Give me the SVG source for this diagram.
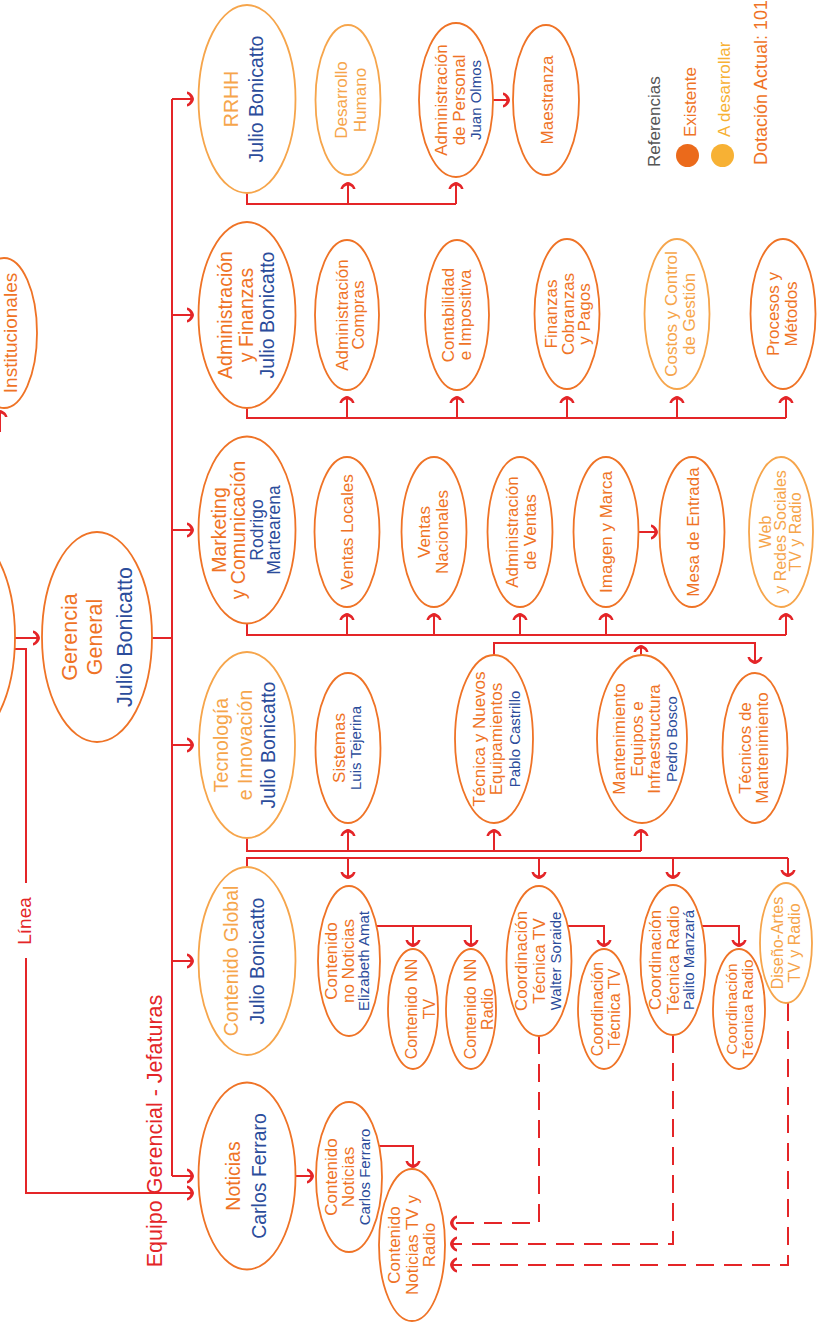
<svg xmlns="http://www.w3.org/2000/svg" width="818" height="1322" viewBox="0 0 818 1322">
<style>
  text { font-family: "Liberation Sans", Arial, sans-serif; text-anchor: middle; }
  .e  { fill: #fff; stroke: #EF7326; stroke-width: 1.8; }
  .el { fill: #fff; stroke: #F6A54B; stroke-width: 1.8; }
  .t  { fill: #EF7326; }
  .tl { fill: #F6A54B; }
  .n  { fill: #2B4C9B; }
  .g  { fill: #555; }
  .r  { fill: #E42528; }
  .h  { font-size: 19.5px; }
  .hs { font-size: 17.5px; }
  .s  { font-size: 17px; }
  .m  { font-size: 16px; }
  .sn { font-size: 15px; }
  .ln { fill: none; stroke: #E42528; stroke-width: 2; }
  .a  { marker-end: url(#ah); }
  .d  { stroke-dasharray: 18 10; }
</style>
<defs>
  <marker id="ah" viewBox="-8 -9 10 18" refX="0" refY="0" markerWidth="10" markerHeight="18" orient="auto" markerUnits="userSpaceOnUse">
    <path d="M1,0 C0.5,-4 -3,-7 -6,-7.5 L-6,-5 C-4,-4.5 -2.5,-2 -2.5,0 C-2.5,2 -4,4.5 -6,5 L-6,7.5 C-3,7 0.5,4 1,0 Z" fill="#E42528"/>
  </marker>
</defs>
<rect width="818" height="1322" fill="#fff"/>

<!-- connectors -->
<g id="connectors" class="ln">
  <!-- board to general management -->
  <path class="a" d="M15,638 H39"/>
  <path d="M15,649 H26 V883"/>
  <path class="a" d="M26,958 V1193 H193"/>
  <path class="a" d="M0,432 V411"/>
  <!-- general management bus -->
  <path d="M152,638 H172"/>
  <path d="M172,99 V1176"/>
  <path class="a" d="M172,99 H193"/>
  <path class="a" d="M172,315 H193"/>
  <path class="a" d="M172,530 H193"/>
  <path class="a" d="M172,745 H193"/>
  <path class="a" d="M172,961 H193"/>
  <path class="a" d="M172,1176 H193"/>
  <!-- RRHH -->
  <path d="M247,193 V204 H456"/>
  <path class="a" d="M348,204 V183"/>
  <path class="a" d="M456,204 V183"/>
  <path class="a" d="M493,100 H509"/>
  <!-- Administración y Finanzas -->
  <path d="M247,407 V418 H786"/>
  <path class="a" d="M347,418 V397"/>
  <path class="a" d="M457,418 V397"/>
  <path class="a" d="M567,418 V397"/>
  <path class="a" d="M677,418 V397"/>
  <path class="a" d="M786,418 V397"/>
  <!-- Marketing -->
  <path d="M247,623 V635 H786"/>
  <path class="a" d="M347,635 V614"/>
  <path class="a" d="M434,635 V614"/>
  <path class="a" d="M520,635 V614"/>
  <path class="a" d="M606,635 V614"/>
  <path class="a" d="M786,635 V614"/>
  <path class="a" d="M638,532 H657"/>
  <!-- Tecnología -->
  <path class="a" d="M494,655 V643 H755 V663"/>
  <path class="a" d="M641,656 V646"/>
  <path d="M247,838 V851 H641"/>
  <path class="a" d="M348,851 V830"/>
  <path class="a" d="M494,851 V830"/>
  <path class="a" d="M641,851 V830"/>
  <!-- Contenido Global -->
  <path d="M247,867 V858 H788"/>
  <path class="a" d="M348,858 V878"/>
  <path class="a" d="M539,858 V878"/>
  <path class="a" d="M673,858 V878"/>
  <path class="a" d="M788,858 V876"/>
  <path class="a" d="M376,926 H471 V946"/>
  <path class="a" d="M413,926 V946"/>
  <path class="a" d="M568,926 H604 V946"/>
  <path class="a" d="M702,926 H739 V946"/>
  <!-- Noticias -->
  <path class="a" d="M295,1176 H313"/>
  <path class="a" d="M379,1146 H413 V1167"/>
  <!-- dashed support links -->
  <path class="a d" d="M539,1036 V1223 H451"/>
  <path class="a d" d="M673,1035 V1244 H451"/>
  <path class="a d" d="M788,1003 V1265 H451"/>
</g>

<!-- side labels -->
<g id="labels">
  <text class="r" style="font-size:19px" transform="translate(31,921) rotate(-90)">Línea</text>
  <text class="r" style="font-size:21.5px" transform="translate(162,1131) rotate(-90)">Equipo Gerencial - Jefaturas</text>
</g>

<!-- nodes -->
<g id="directorio"><ellipse class="e" cx="-40" cy="637" rx="55" ry="108"/></g>

<g id="institucionales" transform="translate(4,333)">
  <ellipse class="e" cx="0" cy="0" rx="33" ry="75"/>
  <g transform="rotate(-90)"><text class="t" style="font-size:19px" y="13">Institucionales</text></g>
</g>

<g id="gerencia" transform="translate(97,637)">
  <ellipse class="e" rx="55" ry="105"/>
  <g transform="rotate(-90)" style="font-size:21.5px">
    <text class="t" y="-20">Gerencia</text>
    <text class="t" y="5">General</text>
    <text class="n" y="35">Julio Bonicatto</text>
  </g>
</g>

<!-- heads -->
<g id="rrhh" transform="translate(247,99)">
  <ellipse class="el" rx="48.5" ry="94"/>
  <g transform="rotate(-90)" class="h">
    <text class="tl" y="-9">RRHH</text>
    <text class="n" y="16">Julio Bonicatto</text>
  </g>
</g>
<g id="admin-finanzas" transform="translate(247,315)">
  <ellipse class="e" rx="48.5" ry="93"/>
  <g transform="rotate(-90)" class="h">
    <text class="t" y="-15">Administración</text>
    <text class="t" y="6">y Finanzas</text>
    <text class="n" y="27">Julio Bonicatto</text>
  </g>
</g>
<g id="marketing" transform="translate(247,530)">
  <ellipse class="e" rx="48.5" ry="93.5"/>
  <g transform="rotate(-90)">
    <text class="t h" y="-21">Marketing</text>
    <text class="t h" y="-2">y Comunicación</text>
    <text class="n hs" y="16">Rodrigo</text>
    <text class="n hs" y="33">Martearena</text>
  </g>
</g>
<g id="tecnologia" transform="translate(247,745)">
  <ellipse class="el" rx="48" ry="93"/>
  <g transform="rotate(-90)" class="h">
    <text class="tl" y="-19">Tecnología</text>
    <text class="tl" y="5">e Innovación</text>
    <text class="n" y="28">Julio Bonicatto</text>
  </g>
</g>
<g id="contenido-global" transform="translate(247,961)">
  <ellipse class="el" rx="48.5" ry="94"/>
  <g transform="rotate(-90)" class="h">
    <text class="tl" y="-9">Contenido Global</text>
    <text class="n" y="17">Julio Bonicatto</text>
  </g>
</g>
<g id="noticias" transform="translate(247,1176)">
  <ellipse class="e" rx="48.5" ry="93.5"/>
  <g transform="rotate(-90)" class="h">
    <text class="t" y="-7">Noticias</text>
    <text class="n" y="19">Carlos Ferraro</text>
  </g>
</g>

<!-- RRHH areas -->
<g id="desarrollo-humano" transform="translate(348,100)">
  <ellipse class="el" rx="32.5" ry="75"/>
  <g transform="rotate(-90)" class="s">
    <text class="tl" y="-1">Desarrollo</text>
    <text class="tl" y="18">Humano</text>
  </g>
</g>
<g id="admin-personal" transform="translate(456,100)">
  <ellipse class="e" rx="37" ry="77"/>
  <g transform="rotate(-90)">
    <text class="t s" y="-9">Administración</text>
    <text class="t s" y="9">de Personal</text>
    <text class="n sn" y="25">Juan Olmos</text>
  </g>
</g>
<g id="maestranza" transform="translate(546,100)">
  <ellipse class="e" rx="33" ry="75"/>
  <g transform="rotate(-90)" class="s"><text class="t" y="7">Maestranza</text></g>
</g>

<!-- Administración y Finanzas areas -->
<g id="admin-compras" transform="translate(347,315)">
  <ellipse class="e" rx="32" ry="75"/>
  <g transform="rotate(-90)" class="s">
    <text class="t" y="1">Administración</text>
    <text class="t" y="17">Compras</text>
  </g>
</g>
<g id="contabilidad" transform="translate(457,315)">
  <ellipse class="e" rx="32" ry="75"/>
  <g transform="rotate(-90)" class="s">
    <text class="t" y="-3">Contabilidad</text>
    <text class="t" y="14">e Impositiva</text>
  </g>
</g>
<g id="finanzas" transform="translate(567,314)">
  <ellipse class="e" rx="32.5" ry="75"/>
  <g transform="rotate(-90)" class="s">
    <text class="t" y="-10">Finanzas</text>
    <text class="t" y="7">Cobranzas</text>
    <text class="t" y="23">y Pagos</text>
  </g>
</g>
<g id="costos" transform="translate(677,314)">
  <ellipse class="el" rx="32.5" ry="75"/>
  <g transform="rotate(-90)" class="s">
    <text class="tl" y="0">Costos y Control</text>
    <text class="tl" y="18">de Gestión</text>
  </g>
</g>
<g id="procesos" transform="translate(783,314)">
  <ellipse class="e" rx="32.5" ry="75"/>
  <g transform="rotate(-90)" class="s">
    <text class="t" y="-4">Procesos y</text>
    <text class="t" y="14">Métodos</text>
  </g>
</g>

<!-- Marketing areas -->
<g id="ventas-locales" transform="translate(347,532)">
  <ellipse class="e" rx="32.5" ry="75"/>
  <g transform="rotate(-90)" class="s"><text class="t" y="6">Ventas Locales</text></g>
</g>
<g id="ventas-nacionales" transform="translate(434,532)">
  <ellipse class="e" rx="32.5" ry="75"/>
  <g transform="rotate(-90)" class="s">
    <text class="t" y="-4">Ventas</text>
    <text class="t" y="14">Nacionales</text>
  </g>
</g>
<g id="admin-ventas" transform="translate(520,532)">
  <ellipse class="e" rx="32.5" ry="75"/>
  <g transform="rotate(-90)" class="s">
    <text class="t" y="-2">Administración</text>
    <text class="t" y="16">de Ventas</text>
  </g>
</g>
<g id="imagen-marca" transform="translate(606,532)">
  <ellipse class="e" rx="32.5" ry="75"/>
  <g transform="rotate(-90)" class="s"><text class="t" y="6">Imagen y Marca</text></g>
</g>
<g id="mesa-entrada" transform="translate(692,532)">
  <ellipse class="e" rx="32.5" ry="75"/>
  <g transform="rotate(-90)" class="s"><text class="t" y="7">Mesa de Entrada</text></g>
</g>
<g id="web-redes" transform="translate(781,532)">
  <ellipse class="el" rx="32" ry="75"/>
  <g transform="rotate(-90)" class="m">
    <text class="tl" y="-10">Web</text>
    <text class="tl" y="5">y Redes Sociales</text>
    <text class="tl" y="20">TV y Radio</text>
  </g>
</g>

<!-- Tecnología areas -->
<g id="sistemas" transform="translate(348,748)">
  <ellipse class="e" rx="32.5" ry="75"/>
  <g transform="rotate(-90)">
    <text class="t s" y="-3">Sistemas</text>
    <text class="n sn" y="13">Luis Tejerina</text>
  </g>
</g>
<g id="tecnica-equipamientos" transform="translate(494,739)">
  <ellipse class="e" rx="39" ry="84"/>
  <g transform="rotate(-90)">
    <text class="t s" y="-9">Técnica y Nuevos</text>
    <text class="t s" y="8">Equipamientos</text>
    <text class="n sn" y="26">Pablo Castrillo</text>
  </g>
</g>
<g id="mantenimiento" transform="translate(642,739)">
  <ellipse class="e" rx="45" ry="84"/>
  <g transform="rotate(-90)">
    <text class="t s" y="-17">Mantenimiento</text>
    <text class="t s" y="1">Equipos e</text>
    <text class="t s" y="18">Infraestructura</text>
    <text class="n sn" y="35">Pedro Bosco</text>
  </g>
</g>
<g id="tecnicos-mantenimiento" transform="translate(755,748)">
  <ellipse class="e" rx="32.5" ry="75"/>
  <g transform="rotate(-90)" class="s">
    <text class="t" y="-4">Técnicos de</text>
    <text class="t" y="13">Mantenimiento</text>
  </g>
</g>

<!-- Contenido Global areas -->
<g id="contenido-no-noticias" transform="translate(349,961)">
  <ellipse class="e" rx="31" ry="75"/>
  <g transform="rotate(-90)">
    <text class="t s" y="-12">Contenido</text>
    <text class="t s" y="5">no Noticias</text>
    <text class="n sn" y="20">Elizabeth Amat</text>
  </g>
</g>
<g id="contenido-nn-tv" transform="translate(413,1009)">
  <ellipse class="e" rx="25" ry="60"/>
  <g transform="rotate(-90)" class="m">
    <text class="t" y="4">Contenido NN</text>
    <text class="t" y="22">TV</text>
  </g>
</g>
<g id="contenido-nn-radio" transform="translate(471,1009)">
  <ellipse class="e" rx="25" ry="60"/>
  <g transform="rotate(-90)" class="m">
    <text class="t" y="5">Contenido NN</text>
    <text class="t" y="22">Radio</text>
  </g>
</g>
<g id="coord-tecnica-tv" transform="translate(539,961)">
  <ellipse class="e" rx="32.5" ry="75"/>
  <g transform="rotate(-90)">
    <text class="t s" y="-12">Coordinación</text>
    <text class="t s" y="6">Técnica TV</text>
    <text class="n sn" y="22">Walter Soraide</text>
  </g>
</g>
<g id="coord-tv" transform="translate(604,1009)">
  <ellipse class="e" rx="26" ry="60"/>
  <g transform="rotate(-90)" class="m">
    <text class="t" y="-1">Coordinación</text>
    <text class="t" y="16">Técnica TV</text>
  </g>
</g>
<g id="coord-tecnica-radio" transform="translate(673,960)">
  <ellipse class="e" rx="32.5" ry="75"/>
  <g transform="rotate(-90)">
    <text class="t s" y="-12">Coordinación</text>
    <text class="t s" y="6">Técnica Radio</text>
    <text class="n sn" y="21">Palito Manzará</text>
  </g>
</g>
<g id="coord-radio" transform="translate(739,1009)">
  <ellipse class="e" rx="26" ry="60"/>
  <g transform="rotate(-90)" style="font-size:15.5px">
    <text class="t" y="-2">Coordinación</text>
    <text class="t" y="14">Técnica Radio</text>
  </g>
</g>
<g id="diseno-artes" transform="translate(786,943)">
  <ellipse class="el" rx="26" ry="60"/>
  <g transform="rotate(-90)" class="m">
    <text class="tl" y="-3">Diseño-Artes</text>
    <text class="tl" y="14">TV y Radio</text>
  </g>
</g>

<!-- Noticias areas -->
<g id="contenido-noticias" transform="translate(349,1177)">
  <ellipse class="e" rx="33" ry="75"/>
  <g transform="rotate(-90)">
    <text class="t s" y="-12">Contenido</text>
    <text class="t s" y="5">Noticias</text>
    <text class="n sn" y="21">Carlos Ferraro</text>
  </g>
</g>
<g id="contenido-noticias-tv-radio" transform="translate(412,1245)">
  <ellipse class="e" rx="33" ry="76"/>
  <g transform="rotate(-90)" class="s">
    <text class="t" y="-12">Contenido</text>
    <text class="t" y="6">Noticias TV y</text>
    <text class="t" y="23">Radio</text>
  </g>
</g>

<!-- legend -->
<g id="legend">
  <text class="g" style="font-size:17px;text-anchor:start" transform="translate(660,167) rotate(-90)">Referencias</text>
  <circle cx="687.5" cy="155.5" r="11.5" fill="#EB6A1B"/>
  <text class="t" style="font-size:17px;text-anchor:start" transform="translate(696,137) rotate(-90)">Existente</text>
  <circle cx="722.5" cy="155.5" r="11.5" fill="#F7B134"/>
  <text style="font-size:17px;text-anchor:start;fill:#F7B134" transform="translate(730,137) rotate(-90)">A desarrollar</text>
  <text class="t" style="font-size:18px;text-anchor:start" transform="translate(767,165) rotate(-90)">Dotación Actual: 101</text>
</g>
</svg>
